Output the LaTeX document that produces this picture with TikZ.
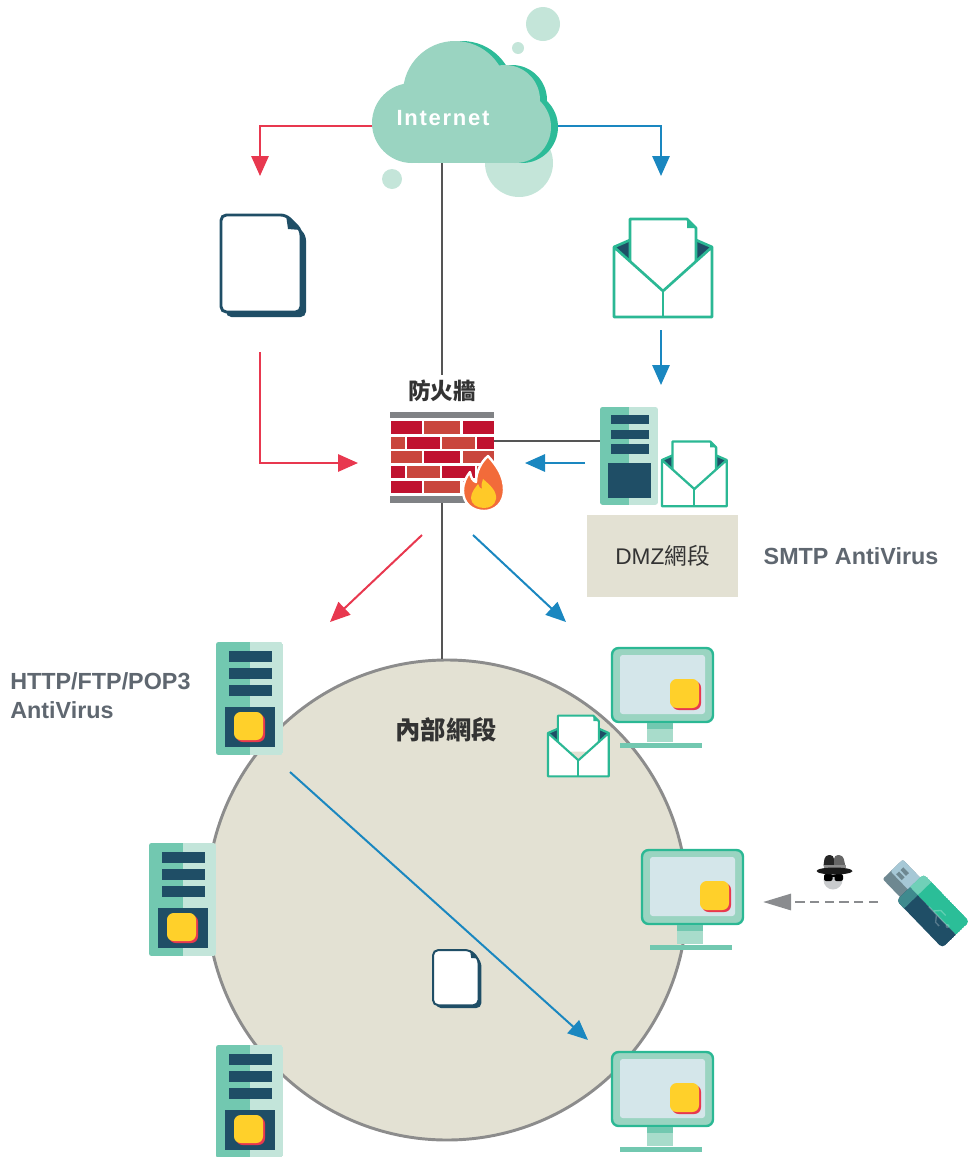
\documentclass[tikz,border=0pt]{standalone}
\usepackage{fontspec}
\setmainfont{Liberation Sans}
\newfontfamily\cjk{Noto Sans CJK TC}
\newfontfamily\inetfont[LetterSpace=8]{Liberation Sans}
\usetikzlibrary{arrows.meta}

\definecolor{flowred}{HTML}{E8384F}
\definecolor{flowblue}{HTML}{1A87C0}
\definecolor{linkgray}{HTML}{555555}
\definecolor{dashgray}{HTML}{8A8C8F}
\definecolor{mailteal}{HTML}{2BB894}
\definecolor{inkblue}{HTML}{1F4E66}
\definecolor{cloudfill}{HTML}{9AD4C1}
\definecolor{cloudshade}{HTML}{2DBB98}
\definecolor{bubble}{HTML}{C4E5D9}
\definecolor{sand}{HTML}{E3E1D3}
\definecolor{srvdark}{HTML}{72C8B0}
\definecolor{srvlight}{HTML}{C3E5DA}
\definecolor{necklight}{HTML}{A8DCCB}
\definecolor{scrfill}{HTML}{D4E6EA}
\definecolor{chipyellow}{HTML}{FFD02A}
\definecolor{chipred}{HTML}{E8384F}
\definecolor{brickA}{HTML}{C0122F}
\definecolor{brickB}{HTML}{C9463D}
\definecolor{wallgray}{HTML}{808285}
\definecolor{labelgray}{HTML}{5F6770}
\definecolor{textdark}{HTML}{333333}
\definecolor{ringgray}{HTML}{8C8C8C}
\definecolor{flameorange}{HTML}{F26B3A}
\definecolor{flameyellow}{HTML}{FFC928}
\definecolor{usbgreen}{HTML}{2BBE98}
\definecolor{usbgreenlt}{HTML}{70D0B8}
\definecolor{usbdarklt}{HTML}{3F8A8E}
\definecolor{plugblue}{HTML}{A6C8D6}
\definecolor{pluggray}{HTML}{6E8891}
\definecolor{facegray}{HTML}{C9CBCD}

\tikzset{
  server base/.pic={
    \begin{scope}
      \clip[rounded corners=2pt] (0,0) rectangle (67,113);
      \fill[srvlight] (0,0) rectangle (67,113);
      \fill[srvdark] (0,0) rectangle (34,113);
    \end{scope}
    \fill[inkblue] (13,9) rectangle (56,20);
    \fill[inkblue] (13,26) rectangle (56,37);
    \fill[inkblue] (13,43) rectangle (56,54);
    \fill[inkblue] (9,65) rectangle (59,105);
  },
  server/.pic={
    \pic {server base};
    \fill[chipred, rounded corners=5pt] (20,72) rectangle (49,100);
    \fill[chipyellow, rounded corners=5pt] (18,70) rectangle (47,98);
  },
  monitor/.pic={
    \filldraw[fill=cloudfill, draw=mailteal, line width=1.8pt, rounded corners=5pt] (0,0) rectangle (101,74);
    \fill[scrfill, rounded corners=2pt] (8,7) rectangle (93,66);
    \fill[chipred, rounded corners=5pt] (60,33) rectangle (89,62);
    \fill[chipyellow, rounded corners=5pt] (58,31) rectangle (87,60);
    \fill[necklight] (35,75) rectangle (61,94);
    \fill[srvdark] (35,75) rectangle (61,81);
    \fill[srvdark] (8,95) rectangle (90,100);
  },
  envelope/.pic={
    \fill[inkblue] (0,0) -- (16,-7) -- (16,14) -- cycle;
    \fill[inkblue] (98,0) -- (82,-7) -- (82,14) -- cycle;
    \draw[mailteal, line join=round] (0,0) -- (16,-7) (98,0) -- (82,-7);
    \filldraw[fill=white, draw=mailteal, line join=round] (16,30) -- (16,-28) -- (73,-28) -- (82,-19) -- (82,30);
    \fill[mailteal] (73,-28) -- (82,-19) -- (73,-19) -- cycle;
    \filldraw[fill=white, draw=mailteal, line join=round] (0,0) -- (49,44) -- (98,0) -- (98,70) -- (0,70) -- cycle;
    \draw[mailteal] (49,44) -- (49,70);
  },
  document/.pic={
    \fill[inkblue, rounded corners=4pt] (5,5) -- (70,5) -- (85,20) -- (85,102) -- (5,102) -- cycle;
    \filldraw[fill=white, draw=inkblue, rounded corners=4pt] (0,0) -- (65,0) -- (80,15) -- (80,97) -- (0,97) -- cycle;
    \fill[inkblue] (65,0) -- (80,15) -- (67,14) -- cycle;
  },
  cloud body/.pic={
    \fill (-31,5) circle [radius=40];
    \fill (12,-25) circle [radius=52];
    \fill (62,-18) circle [radius=35];
    \fill (72,9) circle [radius=36];
    \fill (-31,7) rectangle (72,45);
  },
  flowarrow/.style={line width=1.5pt, -{Triangle[length=15pt,width=13pt]}},
  redflow/.style={flowarrow, draw=flowred},
  blueflow/.style={flowarrow, draw=flowblue},
  link/.style={draw=linkgray, line width=2pt},
  dashflow/.style={draw=dashgray, line width=2.2pt, dash pattern=on 7pt off 4pt,
    -{Triangle[length=21pt,width=12pt]}},
  cjklabel/.style={font=\cjk\bfseries\fontsize{#1}{#1}\selectfont, text=textdark},
  avlabel/.style={font=\bfseries\fontsize{17.5}{21}\selectfont, text=labelgray},
}

\begin{document}
\begin{tikzpicture}[x=0.75pt, y=-0.75pt]
\useasboundingbox (0,0) rectangle (969,1157);
\clip (0,0) rectangle (969,1157);

% internal network ring
\node[circle, draw=ringgray, fill=sand, line width=2.2pt, minimum size=360pt, inner sep=0] (ring) at (447,900) {};

% bubbles around the cloud
\fill[bubble] (519,163) circle [radius=34];
\fill[bubble] (543,24) circle [radius=17];
\fill[bubble] (518,48) circle [radius=6];
\fill[bubble] (392,179) circle [radius=10];

% anchor points
\coordinate (inetL) at (372,126);
\coordinate (inetR) at (555,126);
\coordinate (inetB) at (442,162);
\coordinate (docIn) at (260,176);
\coordinate (mailIn) at (661,176);
\coordinate (docOut) at (260,352);
\coordinate (fwInL) at (358,463);
\coordinate (mailOut) at (661,330);
\coordinate (dmzIn) at (661,385);
\coordinate (dmzOut) at (585,463);
\coordinate (fwInR) at (525,463);
\coordinate (fwR) at (494,441);
\coordinate (dmzL) at (600,441);
\coordinate (fwOutL) at (422,535);
\coordinate (srvIn) at (330,622);
\coordinate (fwOutR) at (473,535);
\coordinate (pcIn) at (566,622);
\coordinate (lanFrom) at (290,772);
\coordinate (lanTo) at (588,1040);
\coordinate (usbTail) at (878,902);
\coordinate (usbTip) at (763,902);

% labels
\node[cjklabel=17] (fwlabel) at (442,391) {防火牆};
\node[inner sep=0, minimum width=78pt, minimum height=68pt] (fw) at (442,457.5) {};

% connectors
\draw[link] (inetB) -- (fwlabel);
\draw[link] (fw.south) -- (fw.south |- ring.north);
\draw[link] (fwR) -- (dmzL);
\draw[redflow] (inetL) -| (docIn);
\draw[blueflow] (inetR) -| (mailIn);
\draw[redflow] (docOut) |- (fwInL);
\draw[blueflow] (mailOut) -- (dmzIn);
\draw[blueflow] (dmzOut) -- (fwInR);
\draw[redflow] (fwOutL) -- (srvIn);
\draw[blueflow] (fwOutR) -- (pcIn);
\draw[blueflow] (lanFrom) -- (lanTo);
\draw[dashflow] (usbTail) -- (usbTip);

% cloud with its shaded rim
\pic[cloudshade] (cloudRim) at (450,118) {cloud body};
\pic[cloudfill] (cloud) at (443,118) {cloud body};
\node[font=\inetfont\bfseries\fontsize{16.5}{20}\selectfont, text=white] (inet) at (443,118) {Internet};

% firewall
\fill[wallgray] (390,412) rectangle (494,418);
\fill[wallgray] (390,496) rectangle (494,503);
\fill[brickA] (391,421) rectangle (422,434);
\fill[brickB] (424,421) rectangle (460,434);
\fill[brickA] (463,421) rectangle (494,434);
\fill[brickB] (391,437) rectangle (405,449);
\fill[brickA] (407,437) rectangle (440,449);
\fill[brickB] (442,437) rectangle (475,449);
\fill[brickA] (477,437) rectangle (494,449);
\fill[brickB] (391,451) rectangle (422,463);
\fill[brickA] (424,451) rectangle (460,463);
\fill[brickB] (463,451) rectangle (494,463);
\fill[brickA] (391,466) rectangle (405,478);
\fill[brickB] (407,466) rectangle (440,478);
\fill[brickA] (442,466) rectangle (475,478);
\fill[brickB] (477,466) rectangle (494,478);
\fill[brickA] (391,481) rectangle (422,493);
\fill[brickB] (424,481) rectangle (460,493);
\fill[brickA] (463,481) rectangle (494,493);
% flame
\filldraw[fill=flameorange, draw=white, line width=1.8pt, line join=round]
  (488,456) .. controls (497,466) and (504,476) .. (504,490)
  .. controls (504,503) and (495,511) .. (484,511)
  .. controls (472,511) and (463,503) .. (463,491)
  .. controls (463,483) and (466,477) .. (470,472)
  .. controls (471,478) and (473,481) .. (476,482)
  .. controls (476,472) and (481,462) .. (488,456) -- cycle;
\fill[flameyellow]
  (483,479) .. controls (490,485) and (497,491) .. (496,499)
  .. controls (495,505) and (490,508) .. (484,508)
  .. controls (477,508) and (471,504) .. (471,498)
  .. controls (471,492) and (476,487) .. (478,484)
  .. controls (479,487) and (480,488) .. (482,489)
  .. controls (481,485) and (482,482) .. (483,479) -- cycle;

% documents and mail
\pic[line width=2.2pt] (docTop) at (221,215) {document};
\pic[line width=2pt] (mailTop) at (614,247) {envelope};
\pic[scale=0.866] (dmzSrv) at (600,407) {server base};
\pic[scale=0.66, line width=1.7pt] (dmzMail) at (662,460) {envelope};
\pic[scale=0.62, line width=1.6pt] (lanMail) at (548,733) {envelope};
\pic[scale=0.57, line width=1.5pt] (lanDoc) at (433,950) {document};

% DMZ zone
\node[fill=sand, minimum width=113.25pt, minimum height=61.5pt, inner sep=0] (dmz) at (662.5,556) {};
\node[font=\fontsize{17}{20}\selectfont, text=textdark] (dmzlabel) at (662.5,556) {DMZ{\cjk 網段}};
\node[avlabel] (smtp) at (851,556) {SMTP AntiVirus};

% internal zone
\node[cjklabel=19] (lanlabel) at (446,730) {內部網段};
\node[avlabel, anchor=base west, inner sep=0] (httpA) at (10,689.5) {HTTP/FTP/POP3};
\node[avlabel, anchor=base west, inner sep=0] (httpB) at (10,718.5) {AntiVirus};

% servers and workstations
\pic (srvA) at (216,642) {server};
\pic (srvB) at (149,843) {server};
\pic (srvC) at (216,1045) {server};
\pic (pcA) at (612,648) {monitor};
\pic (pcB) at (642,850) {monitor};
\pic (pcC) at (612,1052) {monitor};

% intruder
\fill[facegray] (833,880) circle [radius=9.5];
\fill[black, rounded corners=1.5pt] (824,874) rectangle (832.5,881);
\fill[black, rounded corners=1.5pt] (834.5,874) rectangle (843,881);
\fill[black] (832,875) rectangle (835,877);
\fill[black!85, rounded corners=3pt] (823,869) -- (825,855) -- (834,855) -- (834,869) -- cycle;
\fill[black!60, rounded corners=3pt] (834,869) -- (834,855) -- (843,855) -- (846,869) -- cycle;
\fill[black!85] (823,869) rectangle (834,870);
\fill[black!45] (823.5,865) rectangle (845.5,868);
\fill[black!90] (834.5,871) ellipse [x radius=18, y radius=3.5];

% USB stick
\begin{scope}[shift={(933,911)}, rotate=-46]
  \fill[pluggray, rounded corners=1.5pt] (-58,-14) rectangle (-30,14);
  \fill[plugblue, rounded corners=1.5pt] (-58,-14) rectangle (-30,3);
  \fill[pluggray] (-52,-9) rectangle (-44,-5);
  \fill[pluggray] (-52,-3) rectangle (-44,1);
  \begin{scope}
    \clip[rounded corners=3pt] (-33,-19) rectangle (33,19);
    \fill[usbgreen] (-33,-19) rectangle (33,0);
    \fill[inkblue] (-33,0) rectangle (33,19);
    \fill[usbgreenlt] (-33,-19) rectangle (-22,0);
    \fill[usbdarklt] (-33,0) rectangle (-22,19);
  \end{scope}
  \draw[white, opacity=0.25, line width=1pt] (-6,0) -- (20,0)
    (0,0) -- (5,-6) -- (12,-6) (5,0) -- (10,6) -- (15,6);
  \fill[white, opacity=0.25] (21,0) circle [radius=2];
\end{scope}
\end{tikzpicture}
\end{document}
